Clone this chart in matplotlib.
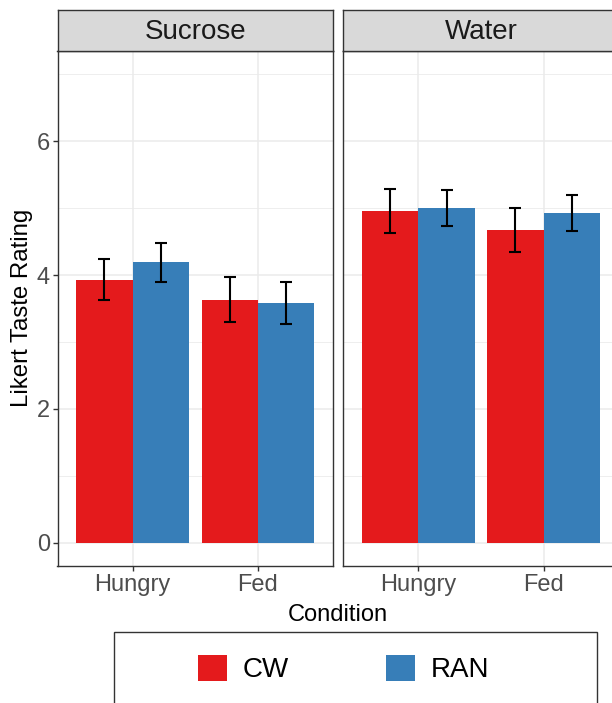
import numpy as np
import matplotlib
matplotlib.use("Agg")
import matplotlib.pyplot as plt
from matplotlib.patches import Patch, Rectangle

plt.rcParams['font.family'] = ['Liberation Sans', 'DejaVu Sans']

# data
foods = ['Sucrose', 'Water']
conditions = ['Hungry', 'Fed']
groups = ['CW', 'RAN']
cw_means = [[3.93, 3.63], [4.96, 4.67]]
cw_se = [[0.31, 0.335], [0.325, 0.33]]
ran_means = [[4.19, 3.58], [5.00, 4.93]]
ran_se = [[0.29, 0.315], [0.27, 0.265]]
yticks = [0, 2, 4, 6]

colors = ['#E41A1C', '#377EB8']
W, H = 612, 703
fig = plt.figure(figsize=(W / 100, H / 100), dpi=100)

panel_w = 275.5
lefts = [57.5, 343.3]
x = np.arange(len(conditions))
bw = 0.45

for i, food in enumerate(foods):
    ax = fig.add_axes([lefts[i] / W, (H - 566) / H, panel_w / W, 515 / H])
    means = [cw_means[i], ran_means[i]]
    ses = [cw_se[i], ran_se[i]]
    for g in range(len(groups)):
        xs = x + (g - 0.5) * bw
        ax.bar(xs, means[g], width=bw, color=colors[g], zorder=2)
        ax.errorbar(xs, means[g], yerr=ses[g], fmt='none', ecolor='black',
                    elinewidth=1.5, capsize=4.0, capthick=1.5, zorder=3)
    ax.set_xlim(-0.6, 1.6)
    ax.set_ylim(-0.35, 7.35)
    ax.set_xticks(x)
    ax.set_xticklabels(conditions)
    ax.set_yticks(yticks)
    ax.set_yticks([1, 3, 5, 7], minor=True)
    ax.grid(which='major', color='#EBEBEB', linewidth=1.1, zorder=0)
    ax.grid(which='minor', axis='y', color='#EBEBEB', linewidth=0.6, zorder=0)
    ax.set_axisbelow(True)
    ax.tick_params(axis='both', which='major', labelsize=17, labelcolor='#4D4D4D',
                   color='#333333', length=3.5, width=1.0, pad=2)
    ax.tick_params(axis='y', which='minor', length=0)
    if i > 0:
        ax.tick_params(axis='y', which='major', length=0, labelleft=False)
    for s in ax.spines.values():
        s.set_color('#333333')
        s.set_linewidth(1.0)

    # facet strip
    sax = fig.add_axes([lefts[i] / W, (H - 51) / H, panel_w / W, 41 / H])
    sax.set_facecolor('#D9D9D9')
    sax.set_xticks([])
    sax.set_yticks([])
    for s in sax.spines.values():
        s.set_color('#333333')
        s.set_linewidth(1.0)
    sax.text(0.5, 0.47, food, transform=sax.transAxes, ha='center', va='center',
             fontsize=20, color='#1A1A1A')

fig.text(338 / W, 1 - 615 / H, 'Condition', ha='center', va='center',
         fontsize=17, color='black')
fig.text(22 / W, 1 - 308 / H, 'Likert Taste Rating', ha='center', va='center',
         rotation=90, fontsize=17.3, color='black')

# legend in a box running off the bottom
fig.patches.append(Rectangle((114 / W, -0.05), (597 - 114) / W, (H - 631.7) / H + 0.05,
                             transform=fig.transFigure, fill=False,
                             edgecolor='#333333', linewidth=1.0))
handles = [Patch(facecolor=c, edgecolor='none') for c in colors]
fig.legend(handles, groups, loc='center left', bbox_to_anchor=(198 / W, 1 - 669 / H),
           ncol=2, frameon=False, fontsize=20, handlelength=1.05, handleheight=1.05,
           handletextpad=0.55, columnspacing=3.5, borderpad=0, borderaxespad=0)

fig.savefig('out.png', dpi=100)
